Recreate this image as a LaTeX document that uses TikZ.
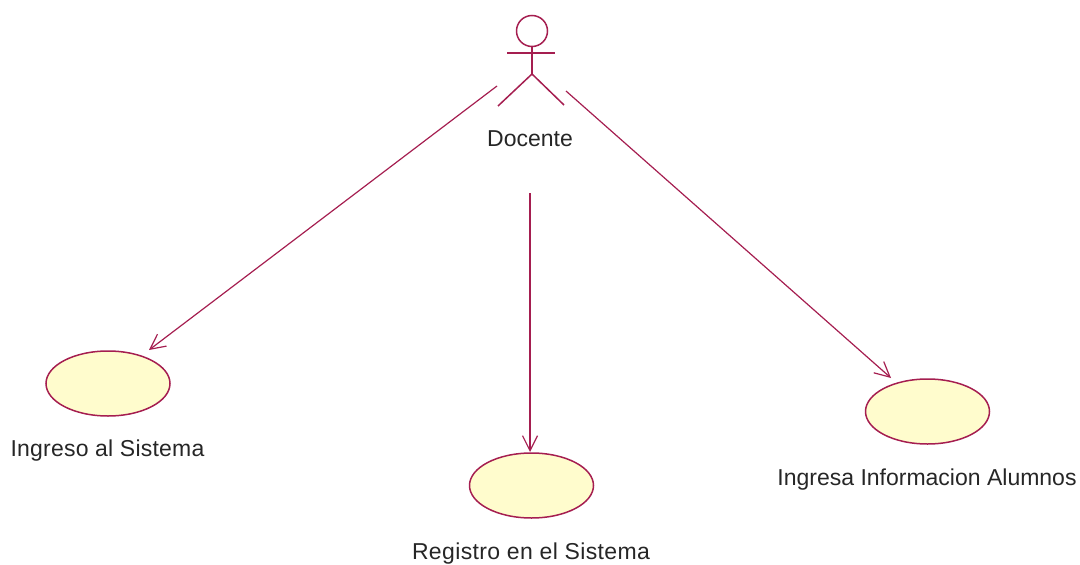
\documentclass[tikz,border=0pt]{standalone}
\usepackage{fontspec}
\setmainfont{Liberation Sans}
\usetikzlibrary{arrows.meta,shapes.geometric}
\definecolor{umlline}{RGB}{165,30,80}
\definecolor{umlfill}{RGB}{255,252,205}
\tikzset{x=1pt,y=-1pt,
 usecase/.style={ellipse,draw=umlline,fill=umlfill,line width=1.5pt,minimum width=124pt,minimum height=65pt,inner sep=0pt},
 lbl/.style={font=\fontsize{23}{26}\selectfont,text=black!85,inner sep=0pt,anchor=base},
 assoc/.style={draw=umlline,line width=1.2pt,-{Straight Barb[length=15pt,width=15pt,line width=1.2pt]}},
 actorline/.style={draw=umlline,line width=1.5pt}}
\begin{document}
\begin{tikzpicture}
\useasboundingbox (0,0) rectangle (1080,565);
\node[usecase] (u1) at (108,383.5) {};
\node[usecase] (u2) at (531.5,485.5) {};
\node[usecase] (u3) at (927.5,411.5) {};
\node[lbl] (l1) at (107.5,456.5) {\addfontfeature{LetterSpace=1.0}Ingreso al Sistema};
\node[lbl] (l2) at (531,559.5) {\addfontfeature{LetterSpace=1.6}Registro en el Sistema};
\node[lbl] (l3) at (927,485.5) {Ingresa Informacion Alumnos};
\node[lbl] (l0) at (530,146) {Docente};
\node[circle,draw=umlline,line width=1.5pt,minimum size=31pt,inner sep=0pt] (head) at (532,31) {};
\coordinate (hip) at (532,74);
\coordinate (al) at (507,53);
\coordinate (ar) at (555,53);
\coordinate (fl) at (498,106);
\coordinate (fr) at (564,105);
\draw[actorline] (head.south) -- (hip);
\draw[actorline] (al) -- (ar);
\draw[actorline] (fl) -- (hip) -- (fr);
\coordinate (s1) at (497,86);
\coordinate (s2) at (530,193);
\coordinate (s3) at (566,91);
\coordinate (e1) at (149,350);
\coordinate (e2) at (530,452);
\coordinate (e3) at (891,378);
\draw[assoc] (s1) -- (e1);
\draw[assoc] (s2) -- (e2);
\draw[assoc] (s3) -- (e3);
\end{tikzpicture}
\end{document}
